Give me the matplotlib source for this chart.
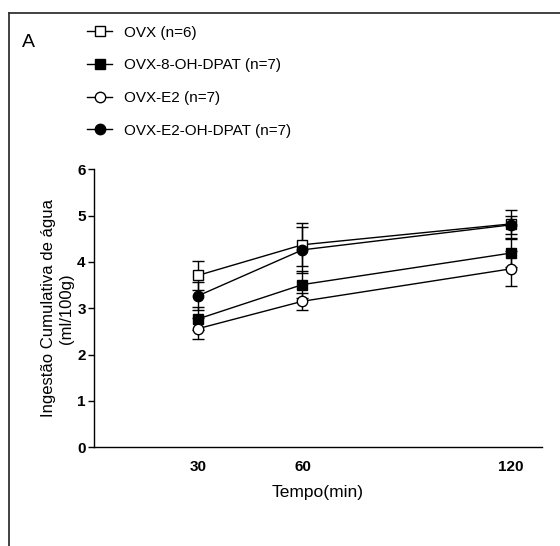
import matplotlib
matplotlib.use("Agg")
import matplotlib.pyplot as plt
from matplotlib.lines import Line2D

plt.rcParams['font.family'] = ['Liberation Sans', 'DejaVu Sans']

tempo = [30, 60, 120]

groups = ['OVX (n=6)', 'OVX-8-OH-DPAT (n=7)', 'OVX-E2 (n=7)', 'OVX-E2-OH-DPAT (n=7)']
ovx = [3.71, 4.37, 4.82]
ovx_err = [0.32, 0.46, 0.30]
ovx_8oh = [2.77, 3.51, 4.19]
ovx_8oh_err = [0.25, 0.30, 0.30]
ovx_e2 = [2.56, 3.15, 3.85]
ovx_e2_err = [0.22, 0.18, 0.38]
ovx_e2_oh = [3.27, 4.26, 4.80]
ovx_e2_oh_err = [0.30, 0.50, 0.20]

series = [
    (ovx, ovx_err, 's', 'white'),
    (ovx_8oh, ovx_8oh_err, 's', 'black'),
    (ovx_e2, ovx_e2_err, 'o', 'white'),
    (ovx_e2_oh, ovx_e2_oh_err, 'o', 'black'),
]

fig = plt.figure(figsize=(5.6, 5.46), dpi=100)
ax = fig.add_axes([0.168, 0.181, 0.80, 0.509])

handles = []
for (vals, errs, mk, fc), name in zip(series, groups):
    ax.errorbar(tempo, vals, yerr=errs, color='black', lw=1.0, marker=mk,
                markersize=7.5, markerfacecolor=fc, markeredgecolor='black',
                markeredgewidth=1.0, capsize=4, capthick=1.5, elinewidth=1.0)
    handles.append(Line2D([], [], color='black', lw=1.0, marker=mk, markersize=7.5,
                          markerfacecolor=fc, markeredgecolor='black', label=name))

ax.set_xlim(0, 129)
ax.set_ylim(0, 6)
ax.set_xticks(tempo)
ax.set_yticks(range(0, 7))
for s in ['top', 'right']:
    ax.spines[s].set_visible(False)
ax.spines['left'].set_linewidth(1.0)
ax.spines['bottom'].set_linewidth(1.0)
ax.tick_params(axis='y', direction='out', length=4, width=1.0, pad=2, labelsize=11)
ax.tick_params(axis='x', length=0, pad=9, labelsize=11)
for lab in ax.get_xticklabels() + ax.get_yticklabels():
    lab.set_fontweight('bold')

ax.set_xlabel('Tempo(min)', fontsize=12.5, labelpad=8)
ax.set_ylabel('Ingestão Cumulativa de água\n(ml/100g)', fontsize=12, labelpad=2,
              linespacing=1.3)

fig.legend(handles=handles, loc='upper left', bbox_to_anchor=(0.145, 0.964),
           frameon=False, fontsize=11, handlelength=1.6, handletextpad=0.8,
           labelspacing=1.22, borderaxespad=0)

fig.text(0.04, 0.922, 'A', fontsize=14, va='center', ha='left')

# moldura parcial (esquerda e topo)
fig.add_artist(Line2D([0.016, 0.016], [0.0, 0.976], color='#333333', lw=1.3))
fig.add_artist(Line2D([0.016, 1.0], [0.976, 0.976], color='#333333', lw=1.3))

fig.savefig('out.png', dpi=100)
